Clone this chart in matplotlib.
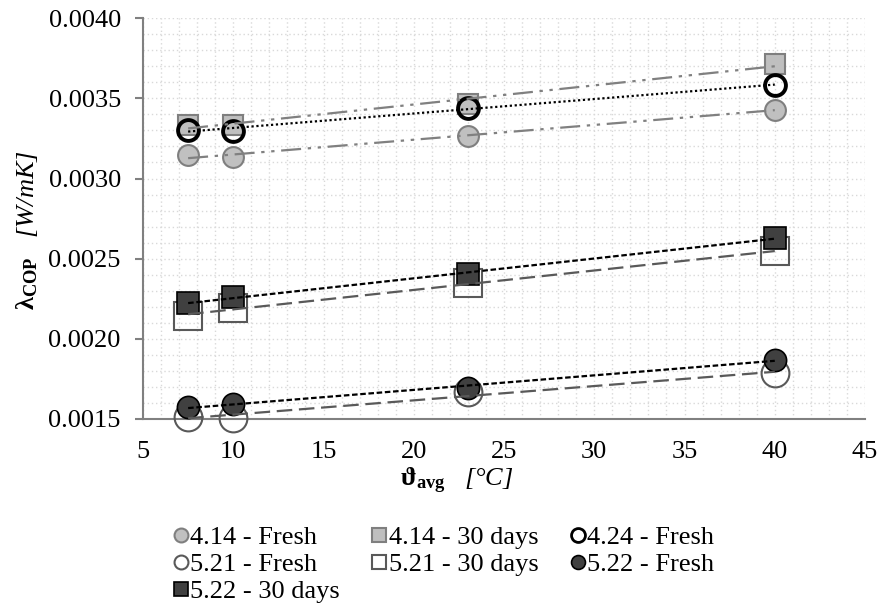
import numpy as np
import matplotlib
matplotlib.use("Agg")
import matplotlib.pyplot as plt
from matplotlib.ticker import MultipleLocator, FormatStrFormatter

plt.rcParams['font.family'] = ['Liberation Serif', 'DejaVu Serif']
plt.rcParams['mathtext.fontset'] = 'custom'
# only brackets / slash / degree fall back to rm in the labels -> keep them italic
plt.rcParams['mathtext.rm'] = 'Liberation Serif:italic'
plt.rcParams['mathtext.it'] = 'Liberation Serif:italic'
plt.rcParams['mathtext.bf'] = 'Liberation Serif:bold'
plt.rcParams['mathtext.fallback'] = 'stix'

# temperatures (°C)
t_avg = [7.5, 10, 23, 40]

# lambda values (W/mK)
f414_fresh = [0.003145, 0.003133, 0.003265, 0.003430]
f414_30d = [0.003335, 0.003335, 0.003468, 0.003715]
f424_fresh = [0.003305, 0.003297, 0.003442, 0.003583]
f521_fresh = [0.001510, 0.001508, 0.001665, 0.001785]
f521_30d = [0.002145, 0.002190, 0.002345, 0.002545]
f522_fresh = [0.001572, 0.001595, 0.001692, 0.001870]
f522_30d = [0.002225, 0.002258, 0.002402, 0.002630]

labels = ["4.14 - Fresh", "4.14 - 30 days", "4.24 - Fresh",
          "5.21 - Fresh", "5.21 - 30 days", "5.22 - Fresh",
          "5.22 - 30 days"]

# (data, marker, size, face, edge, edge width, trend color, trend dashes)
series = [
    (f414_fresh, 'o', 15, '#c0c0c0', '#7f7f7f', 1.5, '#808080', (9, 3, 1.5, 3, 1.5, 3)),
    (f414_30d, 's', 15, '#bfbfbf', '#7f7f7f', 1.5, '#808080', (9, 3, 1.5, 3, 1.5, 3)),
    (f424_fresh, 'o', 15, 'none', 'black', 2.8, 'black', (1, 1.2)),
    (f521_fresh, 'o', 20, 'none', '#595959', 1.5, '#595959', (7, 3)),
    (f521_30d, 's', 20, 'none', '#595959', 1.5, '#595959', (7, 3)),
    (f522_fresh, 'o', 16, '#404040', 'black', 1.2, 'black', (2.5, 1.2)),
    (f522_30d, 's', 16, '#404040', 'black', 1.2, 'black', (2.5, 1.2)),
]

fig = plt.figure(figsize=(8.8, 6.08), dpi=100)
ax = fig.add_axes([0.1625, 0.311, 0.8205, 0.659])

x = np.array(t_avg)
handles = []
for (vals, mk, ms, fc, ec, ew, lc, dash), lab in zip(series, labels):
    ax.plot(x, vals, linestyle='none', marker=mk, markersize=ms,
            markerfacecolor=fc, markeredgecolor=ec, markeredgewidth=ew,
            zorder=3, clip_on=False)
    k, b = np.polyfit(x, vals, 1)
    xx = np.array([x.min(), x.max()])
    ax.plot(xx, k * xx + b, color=lc, lw=1.6, dashes=dash, zorder=4)
    h, = ax.plot([], [], linestyle='none', marker=mk, markersize=10,
                 markerfacecolor=fc, markeredgecolor=ec,
                 markeredgewidth=min(ew, 2.0))
    handles.append(h)

ax.set_xlim(5, 45)
ax.set_ylim(0.0015, 0.0040)
ax.xaxis.set_major_locator(MultipleLocator(5))
ax.xaxis.set_minor_locator(MultipleLocator(1))
ax.yaxis.set_major_locator(MultipleLocator(0.0005))
ax.yaxis.set_minor_locator(MultipleLocator(0.0001))
ax.yaxis.set_major_formatter(FormatStrFormatter('%.4f'))

ax.grid(which='both', color='#d9d9d9', linestyle=(0, (1, 2)), lw=1.0)
ax.set_axisbelow(True)
for s in ['top', 'right']:
    ax.spines[s].set_visible(False)
for s in ['left', 'bottom']:
    ax.spines[s].set_color('#808080')
    ax.spines[s].set_linewidth(1.5)

ax.tick_params(axis='both', which='both', labelsize=19, colors='black')
ax.tick_params(axis='x', which='both', length=0, pad=16)
ax.tick_params(axis='y', which='major', length=6, color='#808080', width=1.5, pad=10)
ax.tick_params(axis='y', which='minor', length=0)

ax.set_ylabel(r"$\mathbf{\lambda}_{\mathbf{COP}}$   $\mathit{[W/mK]}$",
              fontsize=19, va='center')
ax.yaxis.set_label_coords(-0.16, 0.471)
ax.set_xlabel(r"$\mathbf{\vartheta}_{\mathbf{avg}}$   $\mathit{[°C]}$",
              fontsize=19, va='center')
ax.xaxis.set_label_coords(0.435, -0.155)

# legend is filled row by row in the reference
order = [0, 3, 6, 1, 4, 2, 5]
fig.legend([handles[i] for i in order], [labels[i] for i in order],
           loc='upper left', bbox_to_anchor=(0.198, 0.135),
           ncol=3, frameon=False, fontsize=19, handlelength=0.5,
           handletextpad=0.1, columnspacing=1.25, labelspacing=0.13,
           borderaxespad=0, borderpad=0)

fig.savefig("out.png", dpi=100)
